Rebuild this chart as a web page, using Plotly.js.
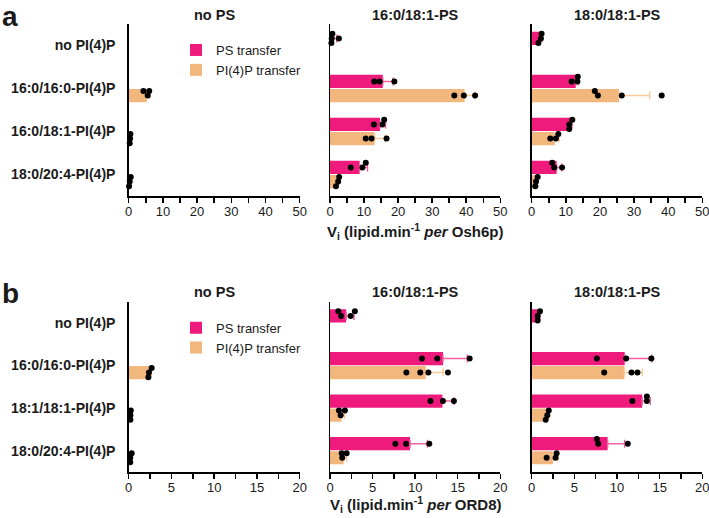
<!DOCTYPE html>
<html><head><meta charset="utf-8">
<script src="https://cdn.plot.ly/plotly-3.0.1.min.js"></script>
<style>html,body{margin:0;padding:0;background:#fff}#chart{width:709px;height:518px}</style>
</head><body><div id="chart"></div>
<script>
// ---------- data ----------
const catsA = ["no PI(4)P", "16:0/16:0-PI(4)P", "16:0/18:1-PI(4)P", "18:0/20:4-PI(4)P"];
const catsB = ["no PI(4)P", "16:0/16:0-PI(4)P", "18:1/18:1-PI(4)P", "18:0/20:4-PI(4)P"];
const subTitles = ["no PS", "16:0/18:1-PS", "18:0/18:1-PS"];
const seriesNames = ["PS transfer", "PI(4)P transfer"];

// Panel a (Osh6p)
const aNoPS_PS_mean = [null, null, null, null];
const aNoPS_PS_sd = [null, null, null, null];
const aNoPS_PS_pts = [[], [], [], []];
const aNoPS_PI_mean = [null, 5.3, 0.4, 0.35];
const aNoPS_PI_sd = [null, 0.9, 0.1, 0.25];
const aNoPS_PI_pts = [[], [5.55, 4.3, 6.0], [0.4, 0.5, 0.3], [0.3, 0.6, 0.1]];

const a1618_PS_mean = [1.0, 15.5, 14.7, 8.7];
const a1618_PS_sd = [1.0, 3.0, 1.6, 2.3];
const a1618_PS_pts = [[0.5, 2.6, 0.7, 0.4], [13.0, 14.6, 18.9], [15.4, 12.9, 15.9], [9.5, 6.1, 10.5]];
const a1618_PI_mean = [null, 39.5, 13.1, 2.1];
const a1618_PI_sd = [null, 3.05, 3.1, 0.5];
const a1618_PI_pts = [[], [36.5, 39.3, 42.6], [10.5, 12.2, 16.6], [2.4, 2.7, 1.75]];

const a1818_PS_mean = [2.5, 12.9, 11.3, 7.3];
const a1818_PS_sd = [0.5, 0.8, 0.5, 1.5];
const a1818_PS_pts = [[2.7, 2.9, 1.95], [13.4, 11.7, 13.5], [11.0, 11.9, 11.0], [6.6, 8.9, 6.0]];
const a1818_PI_mean = [null, 25.6, 6.8, 1.35];
const a1818_PI_sd = [null, 9.0, 1.2, 0.35];
const a1818_PI_pts = [[], [19.4, 26.4, 18.5, 38.1], [7.1, 5.45, 7.8], [1.26, 1.75, 1.06]];

// Panel b (ORD8)
const bNoPS_PS_mean = [null, null, null, null];
const bNoPS_PS_sd = [null, null, null, null];
const bNoPS_PS_pts = [[], [], [], []];
const bNoPS_PI_mean = [null, 2.45, 0.22, 0.24];
const bNoPS_PI_sd = [null, 0.2, 0.03, 0.1];
const bNoPS_PI_pts = [[], [2.37, 2.69, 2.3], [0.2, 0.25, 0.2], [0.18, 0.35, 0.18]];

const b1618_PS_mean = [1.9, 13.27, 13.2, 9.4];
const b1618_PS_sd = [0.92, 2.86, 1.37, 2.04];
const b1618_PS_pts = [[1.3, 2.42, 0.98, 2.92], [10.8, 12.6, 16.4], [11.8, 13.26, 14.55], [7.68, 8.93, 11.66]];
const b1618_PI_mean = [null, 11.24, 1.35, 1.6];
const b1618_PI_sd = [null, 2.04, 0.36, 0.35];
const b1618_PI_pts = [[], [8.97, 10.6, 11.55, 13.85], [1.25, 1.75, 1.05], [1.44, 1.37, 1.95]];

const b1818_PS_mean = [0.79, 10.9, 12.95, 8.9];
const b1818_PS_sd = [0.15, 3.2, 0.95, 2.0];
const b1818_PS_pts = [[0.7, 0.97, 0.7], [7.64, 11.07, 14.03], [13.5, 11.8, 13.5], [7.8, 11.26, 7.64]];
const b1818_PI_mean = [null, 10.87, 1.82, 2.5];
const b1818_PI_sd = [null, 2.1, 0.18, 0.6];
const b1818_PI_pts = [[], [8.5, 11.7, 12.4], [1.83, 2.0, 1.64], [2.8, 1.75, 2.92]];

// ---------- style / layout ----------
const W = 709, H = 518;
const PINK = '#EE1A7C', ORANGE = '#F2B77D', PINK_ERR = '#F462A2', ORANGE_ERR = '#F8CC9B';
const FONT = 'Liberation Sans, Arial, Helvetica, sans-serif';
const xDomPx = [[128.7, 299.7], [330, 500.3], [531.7, 702.3]];
const PS_OFF = -0.32, PI_OFF = 0.01, BAR_W = 0.31;
const px = v => v / W, py = v => 1 - v / H;

const panels = [
  {cats: catsA, xmax: 50, dtick: 10, minor: 5, top: 24, bot: 196, titleY: 15, letter: 'a', letterY: 16,
   xtitle: '<b>V<sub>i</sub> (lipid.min<sup>-1</sup> <i>per</i> Osh6p)</b>', xtitleY: 231, legend: 'legend',
   subs: [
     {ps: [aNoPS_PS_mean, aNoPS_PS_sd, aNoPS_PS_pts], pi: [aNoPS_PI_mean, aNoPS_PI_sd, aNoPS_PI_pts]},
     {ps: [a1618_PS_mean, a1618_PS_sd, a1618_PS_pts], pi: [a1618_PI_mean, a1618_PI_sd, a1618_PI_pts]},
     {ps: [a1818_PS_mean, a1818_PS_sd, a1818_PS_pts], pi: [a1818_PI_mean, a1818_PI_sd, a1818_PI_pts]}]},
  {cats: catsB, xmax: 20, dtick: 5, minor: 2.5, top: 301.7, bot: 472, titleY: 292, letter: 'b', letterY: 293,
   xtitle: '<b>V<sub>i</sub> (lipid.min<sup>-1</sup> <i>per</i> ORD8)</b>', xtitleY: 504, legend: 'legend2',
   subs: [
     {ps: [bNoPS_PS_mean, bNoPS_PS_sd, bNoPS_PS_pts], pi: [bNoPS_PI_mean, bNoPS_PI_sd, bNoPS_PI_pts]},
     {ps: [b1618_PS_mean, b1618_PS_sd, b1618_PS_pts], pi: [b1618_PI_mean, b1618_PI_sd, b1618_PI_pts]},
     {ps: [b1818_PS_mean, b1818_PS_sd, b1818_PS_pts], pi: [b1818_PI_mean, b1818_PI_sd, b1818_PI_pts]}]}
];

// simple deterministic beeswarm offsets (in category units)
function swarm(vals, pxPerUnit, pxPerCat) {
  const placed = [], out = [];
  const step = 4.6, dmin = 4.4;
  vals.forEach(v => {
    let chosen = 0;
    for (const k of [0, -1, 1, -2, 2]) {
      const off = k * step;
      const ok = placed.every(p => Math.hypot((v - p.v) * pxPerUnit, off - p.off) >= dmin);
      if (ok) { chosen = off; break; }
    }
    placed.push({v, off: chosen});
    out.push(chosen / pxPerCat);
  });
  return out;
}

const traces = [], layout = {
  width: W, height: H, margin: {l: 0, r: 0, t: 0, b: 0},
  paper_bgcolor: '#fff', plot_bgcolor: '#fff', barmode: 'overlay',
  font: {family: FONT, size: 13, color: '#1a1a1a'},
  showlegend: true, annotations: []
};
const idx = [0, 1, 2, 3];

panels.forEach((P, pi) => {
  const pxPerCat = (P.bot - P.top) / 4;
  P.subs.forEach((S, si) => {
    const n = pi * 3 + si + 1;
    const xa = n === 1 ? 'x' : 'x' + n, ya = n === 1 ? 'y' : 'y' + n;
    const xName = n === 1 ? 'xaxis' : 'xaxis' + n, yName = n === 1 ? 'yaxis' : 'yaxis' + n;
    const dom = xDomPx[si];
    const pxPerUnit = (dom[1] - dom[0]) / P.xmax;
    layout[xName] = {
      domain: [px(dom[0]), px(dom[1])], anchor: ya, range: [0, P.xmax], dtick: P.dtick, tick0: 0,
      showgrid: false, zeroline: false, showline: true, linecolor: '#000', linewidth: 1.5,
      ticks: 'outside', ticklen: 5, tickwidth: 1.5, tickcolor: '#000', ticklabeloverflow: 'allow',
      ticklabelstandoff: -2,
      minor: {dtick: P.minor, ticks: 'outside', ticklen: 5, tickwidth: 1.5, tickcolor: '#000', showgrid: false},
      tickfont: {size: 13, family: FONT, color: '#1a1a1a'}, fixedrange: true
    };
    layout[yName] = {
      domain: [py(P.bot), py(P.top)], anchor: xa, range: [3.5, -0.5],
      tickvals: idx, ticktext: P.cats, showticklabels: si === 0,
      ticks: 'outside', ticklen: 9, tickcolor: 'rgba(0,0,0,0)',
      showgrid: false, zeroline: false, showline: true, linecolor: '#000', linewidth: 1.5,
      tickfont: {size: 14, family: FONT, color: '#1a1a1a', weight: 'bold'}, fixedrange: true
    };
    const series = [[S.ps, PS_OFF, PINK, PINK_ERR, seriesNames[0]], [S.pi, PI_OFF, ORANGE, ORANGE_ERR, seriesNames[1]]];
    series.forEach(([d, off, col, ecol, name]) => {
      const [mean, sd, pts] = d;
      traces.push({
        type: 'bar', orientation: 'h', x: mean, y: idx, width: BAR_W, offset: off,
        xaxis: xa, yaxis: ya, name: name, legend: P.legend, showlegend: si === 1,
        marker: {color: col, line: {width: 0}},
        error_x: {type: 'data', symmetric: false, array: sd, arrayminus: sd.map(() => 0),
                  color: ecol, thickness: 1.5, width: 4},
        hoverinfo: 'skip'
      });
      const xs = [], ys = [];
      pts.forEach((arr, ci) => {
        const offs = swarm(arr, pxPerUnit, pxPerCat);
        arr.forEach((v, j) => { xs.push(v); ys.push(ci + off + BAR_W / 2 + offs[j]); });
      });
      traces.push({
        type: 'scatter', mode: 'markers', x: xs, y: ys, xaxis: xa, yaxis: ya,
        marker: {color: '#000', size: 6}, cliponaxis: false, showlegend: false, hoverinfo: 'skip'
      });
    });
    layout.annotations.push({
      text: '<b>' + subTitles[si] + '</b>', xref: 'paper', yref: 'paper',
      x: px((dom[0] + dom[1]) / 2), y: py(P.titleY), xanchor: 'center', yanchor: 'middle',
      showarrow: false, font: {size: 14.5, family: FONT, color: '#1a1a1a'}
    });
  });
  layout.annotations.push({
    text: '<b>' + P.letter + '</b>', xref: 'paper', yref: 'paper', x: 0, y: py(P.letterY),
    xanchor: 'left', yanchor: 'middle', showarrow: false, font: {size: 28, family: FONT, color: '#1a1a1a'}
  });
  layout.annotations.push({
    text: P.xtitle, xref: 'paper', yref: 'paper', x: px((xDomPx[1][0] + xDomPx[1][1]) / 2), y: py(P.xtitleY),
    xanchor: 'center', yanchor: 'middle', showarrow: false, font: {size: 15, family: FONT, color: '#1a1a1a'}
  });
  layout[P.legend] = {
    x: px(176), y: py(P.top + 11), xanchor: 'left', yanchor: 'top', bgcolor: 'rgba(0,0,0,0)',
    font: {size: 13, family: FONT, color: '#1a1a1a'}, traceorder: 'normal', tracegroupgap: 0
  };
});

Plotly.newPlot('chart', traces, layout, {staticPlot: true, displayModeBar: false});
</script>
</body></html>
